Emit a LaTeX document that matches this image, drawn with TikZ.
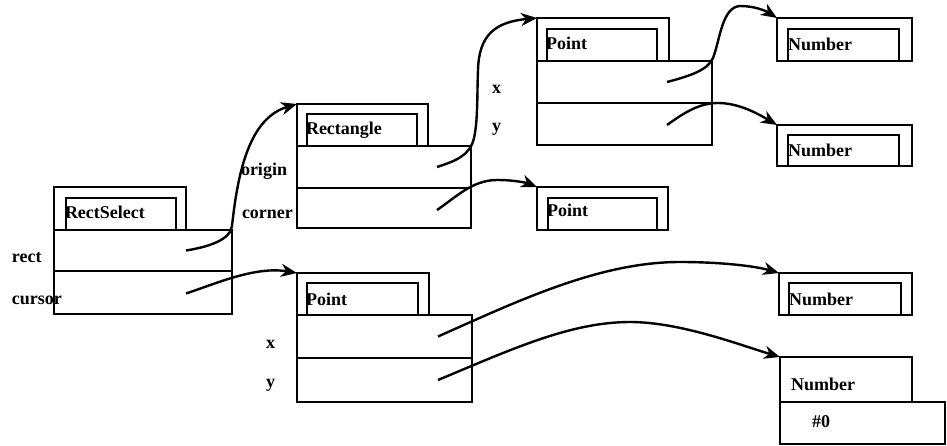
\documentclass[tikz,border=0pt]{standalone}
\usepackage{fontspec}
\setmainfont{Liberation Serif}
\usetikzlibrary{calc,arrows.meta}

\tikzset{
  box/.style={draw, line width=2.3pt, inner sep=0pt, outer sep=0pt},
  lbl/.style={anchor=base west, inner sep=0pt, outer sep=0pt,
              font=\fontsize{18}{21}\selectfont\bfseries},
  link/.style={line width=2.4pt,
               -{Stealth[length=16pt,width=13pt,inset=5pt]}},
}

% box helper: name, x, y, width, height (all in pt, y grows downward)
\newcommand{\objbox}[5]{%
  \node[box, anchor=north west, minimum width=#4pt, minimum height=#5pt] (#1) at (#2,#3) {};}

\begin{document}
\begin{tikzpicture}[x=1pt,y=-1pt]
\useasboundingbox (0,0) rectangle (947,446);

% ---------- RectSelect ----------
\objbox{rs}{54}{187}{132}{43}
\objbox{rs-name}{66}{198}{110}{32}
\node[lbl] (rs-t) at (65,219) {RectSelect};
\objbox{rs-rect}{54}{230}{178}{41}
\objbox{rs-cursor}{54}{271}{178}{43}
\node[lbl] (l-rect) at (12,262) {rect};
\node[lbl] (l-cursor) at (12,304) {cursor};

% ---------- Rectangle ----------
\objbox{rc}{297}{104}{131}{42}
\objbox{rc-name}{307}{114}{110}{32}
\node[lbl] (rc-t) at (306,135) {Rectangle};
\objbox{rc-origin}{297}{146}{174}{42}
\objbox{rc-corner}{297}{188}{174}{40}
\node[lbl] (l-origin) at (241,176) {origin};
\node[lbl] (l-corner) at (242,219) {corner};

% ---------- Point (origin) ----------
\objbox{pa}{537}{18}{132}{43}
\objbox{pa-name}{547}{29}{110}{32}
\node[lbl] (pa-t) at (546,50) {Point};
\objbox{pa-x}{537}{61}{175}{42}
\objbox{pa-y}{537}{103}{175}{42}
\node[lbl] (l-pax) at (492,94) {x};
\node[lbl] (l-pay) at (492,132) {y};

% ---------- Numbers of origin ----------
\objbox{n1}{777}{18}{135}{43}
\objbox{n1-name}{788}{29}{111}{32}
\node[lbl] (n1-t) at (788,51) {Number};
\objbox{n2}{777}{125}{135}{41}
\objbox{n2-name}{788}{135}{111}{31}
\node[lbl] (n2-t) at (788,157) {Number};

% ---------- Point (corner) ----------
\objbox{pb}{537}{187}{131}{43}
\objbox{pb-name}{548}{198}{109}{32}
\node[lbl] (pb-t) at (547,217) {Point};

% ---------- Point (cursor) ----------
\objbox{pc}{297}{273}{132}{42}
\objbox{pc-name}{307}{283}{111}{32}
\node[lbl] (pc-t) at (306,305) {Point};
\objbox{pc-x}{297}{315}{175}{43}
\objbox{pc-y}{297}{358}{175}{44}
\node[lbl] (l-pcx) at (266,348) {x};
\node[lbl] (l-pcy) at (266,387) {y};

% ---------- Numbers of cursor ----------
\objbox{n3}{779}{273}{133}{42}
\objbox{n3-name}{789}{283}{112}{32}
\node[lbl] (n3-t) at (789,305) {Number};
\objbox{n4}{780}{357}{132}{45}
\node[lbl] (n4-t) at (791,390) {Number};
\objbox{n4-val}{780}{402}{165}{42}
\node[lbl] (n4-v) at (812,427) {\#0};

% ---------- references ----------
\draw[link] ($(rs-rect.east)+(-46,0)$) .. controls (208,247) and (230.5,240) .. (232,226)
  .. controls (238,170) and (250,118) .. (rc.north west);
\draw[link] ($(rs-cursor.east)+(-46,1)$) .. controls (215,284) and (255,266) .. (pc.north west);

\draw[link] ($(rc-origin.east)+(-34,0)$) .. controls (455,161) and (470,156) .. (474,138)
  .. controls (478,120) and (477,95) .. (478,70)
  .. controls (479,35) and (495,22) .. (pa.north west);
\draw[link] ($(rc-corner.east)+(-34,2)$) .. controls (455,198) and (472,180) .. (497,180)
  .. controls (515,180) and (527,183) .. (pb.north west);

\draw[link] ($(pa-x.east)+(-45,0)$) .. controls (690,76) and (708,70) .. (713,58)
  .. controls (720,40) and (722,7) .. (740,6)
  .. controls (755,6) and (766,11) .. (n1.north west);
\draw[link] ($(pa-y.east)+(-45,1)$) .. controls (685,112) and (700,103) .. (718,103)
  .. controls (740,103) and (760,115) .. (n2.north west);

\draw[link] ($(pc-x.east)+(-34,0)$) .. controls (520,300) and (600,262) .. (680,262)
  .. controls (720,262) and (755,266) .. (n3.north west);
\draw[link] ($(pc-y.east)+(-34,0)$) .. controls (510,350) and (570,322) .. (630,322)
  .. controls (680,322) and (740,345) .. (n4.north west);
\end{tikzpicture}
\end{document}
